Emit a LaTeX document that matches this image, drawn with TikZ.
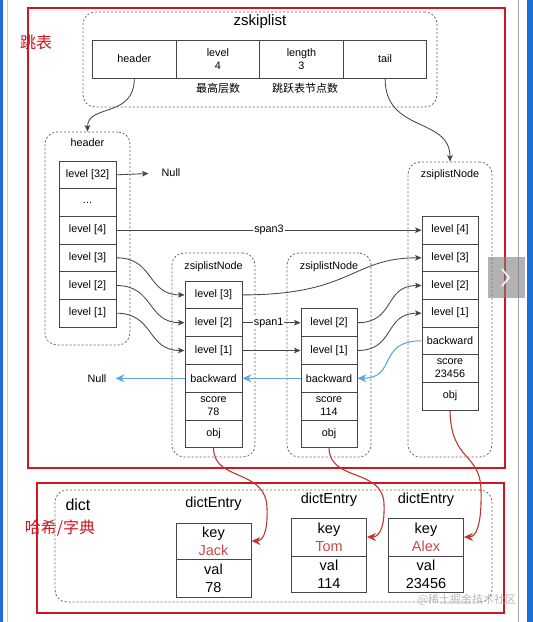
\documentclass[tikz,border=0pt]{standalone}
\usepackage{fontspec}
\setmainfont{Liberation Sans}
\newfontfamily\cjk{Noto Sans CJK SC}
\usetikzlibrary{arrows.meta}
\definecolor{redframe}{RGB}{208,22,32}
\definecolor{redarrow}{RGB}{190,55,50}
\definecolor{keyred}{RGB}{200,75,75}
\definecolor{bluearrow}{RGB}{100,165,225}
\definecolor{linegray}{RGB}{70,70,70}
\definecolor{dashgray}{RGB}{100,100,100}
\definecolor{chromeblue}{RGB}{30,110,220}
\begin{document}
\begin{tikzpicture}[x=1pt,y=-1pt,
  cell/.style={draw=linegray, line width=0.85pt, minimum width=57pt, minimum height=27.7pt, inner sep=0pt, align=center, font=\fontsize{10.8}{13}\selectfont},
  tcell/.style={draw=linegray, line width=0.85pt, minimum width=83.6pt, minimum height=38pt, inner sep=0pt, align=center, font=\fontsize{10.8}{13}\selectfont},
  dcell/.style={draw=linegray, line width=0.85pt, minimum width=75pt, inner sep=0pt, align=center, font=\fontsize{14.5}{18}\selectfont},
  dbox/.style={draw=dashgray, line width=0.8pt, dash pattern=on 2pt off 2pt, rounded corners=12pt, inner sep=0pt},
  small/.style={font=\fontsize{10.8}{13}\selectfont, inner sep=1pt},
  big/.style={font=\fontsize{15}{18}\selectfont, inner sep=0pt},
  mid/.style={font=\fontsize{14.5}{18}\selectfont, inner sep=0pt},
  cn/.style={font=\cjk\fontsize{11}{13}\selectfont, inner sep=0pt},
  redlabel/.style={font=\cjk\fontsize{16}{18}\selectfont, text=redframe, inner sep=0pt},
  frame/.style={draw=redframe, line width=1.6pt},
  blk/.style={draw=linegray, line width=0.85pt, -{Stealth[length=6.5pt,width=5.5pt,inset=1.5pt]}},
  blu/.style={draw=bluearrow, line width=1.1pt, -{Stealth[length=9pt,width=8pt,inset=3pt]}},
  rda/.style={draw=redarrow, line width=1.1pt, -{Stealth[length=9pt,width=8pt,inset=3pt]}},
]
\useasboundingbox (0,0) rectangle (533,622);
\fill[white] (0,0) rectangle (533,622);
% screen chrome
\fill[chromeblue] (0,0) rectangle (2.5,622);
\draw[gray!40, line width=0.8pt] (7,0) -- (7,622);
\draw[gray!70, line width=0.8pt] (518,0) -- (518,622);
\fill[chromeblue] (527,0) rectangle (533,622);

% red frames
\draw[frame] (28,8) rectangle (505,468);
\draw[frame] (37,483) rectangle (504,613);
\node[redlabel] (lbl1) at (36,42) {跳表};
\node[redlabel] (lbl2) at (60,528) {哈希/字典};

% zskiplist
\node[dbox, minimum width=354pt, minimum height=95pt] (zsk) at (260,59.5) {};
\node[big] (zsktitle) at (260,22) {zskiplist};
\node[tcell] (zh) at (134.3,59) {header};
\node[tcell] (zl) at (217.9,59) {level\\4};
\node[tcell] (zn) at (301.5,59) {length\\3};
\node[tcell] (zt) at (385.1,59) {tail};
\node[cn] (c1) at (218,88) {最高层数};
\node[cn] (c2) at (305,88) {跳跃表节点数};

% header group
\node[dbox, minimum width=85pt, minimum height=213pt] (hdr) at (87.5,238.5) {};
\node[small] (hdrt) at (87.5,143) {header};
\node[cell] (h32) at (87.5,174.8) {level [32]};
\node[cell] (hdots) at (87.5,202.5) {...};
\node[cell] (h4) at (87.5,230.2) {level [4]};
\node[cell] (h3) at (87.5,257.8) {level [3]};
\node[cell] (h2) at (87.5,285.5) {level [2]};
\node[cell] (h1) at (87.5,313.2) {level [1]};
\node[small] (null1) at (171,173) {Null};

% node 1
\node[dbox, minimum width=83pt, minimum height=204pt] (nb1) at (213.5,355) {};
\node[small] (nt1) at (213.5,267) {zsiplistNode};
\node[cell] (a3) at (213.5,294.9) {level [3]};
\node[cell, minimum height=27.8pt] (a2) at (213.5,322.7) {level [2]};
\node[cell, minimum height=27.8pt] (a1) at (213.5,350.5) {level [1]};
\node[cell, minimum height=27.8pt] (ab) at (213.5,378.3) {backward};
\node[cell, minimum height=27.8pt] (as) at (213.5,406.1) {score\\78};
\node[cell, minimum height=27.8pt] (ao) at (213.5,433.9) {obj};
\node[small] (null2) at (97,378.3) {Null};

% node 2
\node[dbox, minimum width=84pt, minimum height=204pt] (nb2) at (329,355) {};
\node[small] (nt2) at (329,267) {zsiplistNode};
\node[cell, minimum width=56pt, minimum height=27.8pt] (b2) at (329,322.7) {level [2]};
\node[cell, minimum width=56pt, minimum height=27.8pt] (b1) at (329,350.5) {level [1]};
\node[cell, minimum width=56pt, minimum height=27.8pt] (bb) at (329,378.3) {backward};
\node[cell, minimum width=56pt, minimum height=27.8pt] (bs) at (329,406.1) {score\\114};
\node[cell, minimum width=56pt, minimum height=27.8pt] (bo) at (329,433.9) {obj};

% node 3
\node[dbox, minimum width=84pt, minimum height=295pt] (nb3) at (450,309.5) {};
\node[small] (nt3) at (450,175) {zsiplistNode};
\node[cell, minimum width=56pt] (c4) at (450,230.2) {level [4]};
\node[cell, minimum width=56pt] (c3) at (450,257.8) {level [3]};
\node[cell, minimum width=56pt] (cc2) at (450,285.5) {level [2]};
\node[cell, minimum width=56pt] (cc1) at (450,313.2) {level [1]};
\node[cell, minimum width=56pt] (cb) at (450,340.8) {backward};
\node[cell, minimum width=56pt] (cs) at (450,368.5) {score\\23456};
\node[cell, minimum width=56pt] (co) at (450,396.2) {obj};

% dict
\node[dbox, minimum width=437pt, minimum height=112pt] (dict) at (273.5,546) {};
\node[font=\fontsize{16}{18}\selectfont, inner sep=0pt] (dictt) at (78,505) {dict};
\node[mid] (e1t) at (213.5,504) {dictEntry};
\node[mid] (e2t) at (329,500) {dictEntry};
\node[mid] (e3t) at (426,500) {dictEntry};
\node[dcell, minimum height=36pt] (k1) at (213.5,541) {key\\\textcolor{keyred}{Jack}};
\node[dcell, minimum height=38pt] (v1) at (213.5,578) {val\\78};
\node[dcell, minimum height=38pt] (k2) at (329,537) {key\\\textcolor{keyred}{Tom}};
\node[dcell, minimum height=36pt] (v2) at (329,574) {val\\114};
\node[dcell, minimum height=38pt] (k3) at (426,537) {key\\\textcolor{keyred}{Alex}};
\node[dcell, minimum height=36pt] (v3) at (426,574) {val\\23456};
\node[font=\cjk\fontsize{11}{13}\selectfont, text=gray!55, inner sep=0pt] (wm) at (467,600) {@稀土掘金技术社区};

% black connectors
\draw[blk] (zh.south) .. controls +(0,40) and +(0,-28) .. (hdr.north);
\draw[blk] (zt.south) .. controls +(0,55) and +(0,-45) .. (nb3.north);
\draw[blk, shorten >=12pt] (h32.east) -- (null1.west);
\draw[blk] (h4.east) -- node[small, fill=white, inner sep=1pt] (sp3) {span3} (c4.west);
\draw[blk] (h3.east) .. controls +(38,0) and +(-38,0) .. (a3.west);
\draw[blk] (h2.east) .. controls +(38,0) and +(-38,0) .. (a2.west);
\draw[blk] (h1.east) .. controls +(38,0) and +(-38,0) .. (a1.west);
\draw[blk] (a3.east) .. controls +(110,0) and +(-70,0) .. (c3.west);
\draw[blk] (a2.east) -- node[small, fill=white, inner sep=1pt, pos=0.45] (sp1) {span1} (b2.west);
\draw[blk] (a1.east) -- (b1.west);
\draw[blk] (b2.east) .. controls +(38,0) and +(-38,0) .. (cc2.west);
\draw[blk] (b1.east) .. controls +(38,0) and +(-38,0) .. (cc1.west);

% blue connectors
\draw[blu] (cb.west) .. controls +(-45,0) and +(40,0) .. (bb.east);
\draw[blu] (bb.west) -- (ab.east);
\draw[blu, shorten >=8pt] (ab.west) -- (null2.east);

% red connectors
\draw[rda] (ao.south) .. controls (214,482) and (266,468) .. (267,508) .. controls (268,534) and (262,541) .. (k1.east);
\draw[rda] (bo.south) .. controls (330,482) and (383,468) .. (384,504) .. controls (385,530) and (378,537) .. (k2.east);
\draw[rda] (co.south) .. controls (451,462) and (480,452) .. (481,490) .. controls (482,528) and (475,537) .. (k3.east);

% slide button overlay
\fill[gray, opacity=0.6] (488,257) rectangle (525,298);
\draw[white, line width=1.6pt] (502,269) -- (509,277.5) -- (502,286);
\end{tikzpicture}
\end{document}
